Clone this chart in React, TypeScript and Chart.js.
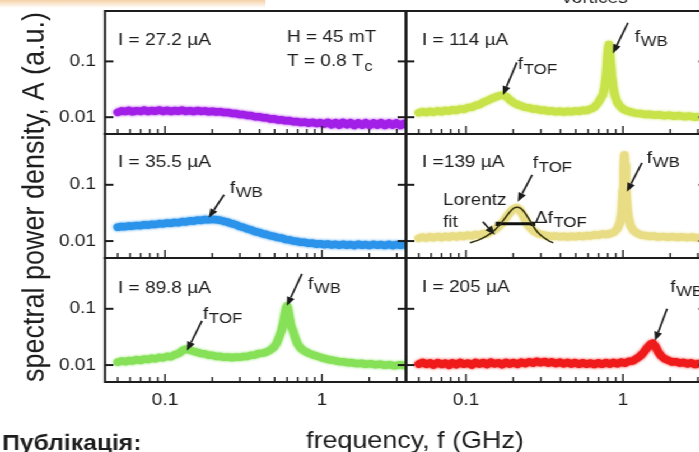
import React, { useEffect, useRef } from 'react';
import { Chart, registerables } from 'chart.js';

Chart.register(...registerables);

// ---------------- data ----------------
const FREQ_BASE = [0.050, 0.053, 0.056, 0.059, 0.062, 0.066, 0.070, 0.074, 0.078, 0.082, 0.087, 0.092, 0.097,
  0.103, 0.109, 0.115, 0.122, 0.129, 0.136, 0.144, 0.152, 0.161, 0.170, 0.180, 0.190,
  0.201, 0.213, 0.225, 0.238, 0.252, 0.267, 0.282, 0.298, 0.316, 0.334, 0.353, 0.374, 0.396, 0.419, 0.443, 0.469,
  0.496, 0.525, 0.555, 0.587, 0.621, 0.657, 0.695, 0.735, 0.778, 0.823, 0.871, 0.921, 0.974,
  1.03, 1.09, 1.15, 1.22, 1.29, 1.36, 1.44, 1.52, 1.61, 1.70, 1.80, 1.90, 2.01, 2.13, 2.25, 2.38, 2.52, 2.67, 2.82,
  2.98, 3.15, 3.34, 3.45];

const AMP_27_2 = [0.0122, 0.0130, 0.0126, 0.0133, 0.0125, 0.0131, 0.0127, 0.0134, 0.0126, 0.0132, 0.0128, 0.0135, 0.0127,
  0.0133, 0.0126, 0.0132, 0.0128, 0.0134, 0.0127, 0.0131, 0.0126, 0.0132, 0.0127, 0.0130, 0.0125,
  0.0128, 0.0124, 0.0126, 0.0121, 0.0122, 0.0117, 0.0117, 0.0112, 0.0112, 0.0107, 0.0107, 0.0102, 0.0102, 0.0098, 0.0098, 0.0093,
  0.0094, 0.0089, 0.0090, 0.0086, 0.0087, 0.0083, 0.0084, 0.0080, 0.0082, 0.0078, 0.0081, 0.0077, 0.0080,
  0.0075, 0.0081, 0.0073, 0.0080, 0.0072, 0.0081, 0.0073, 0.0080, 0.0071, 0.0079, 0.0072, 0.0080, 0.0071, 0.0079, 0.0072, 0.0080, 0.0071, 0.0079, 0.0072,
  0.0079, 0.0071, 0.0078, 0.0073];

const AMP_35_5 = [0.0176, 0.0182, 0.0180, 0.0186, 0.0184, 0.0190, 0.0188, 0.0195, 0.0192, 0.0199, 0.0197, 0.0205, 0.0202,
  0.0210, 0.0207, 0.0215, 0.0212, 0.0222, 0.0219, 0.0229, 0.0226, 0.0236, 0.0233, 0.0242, 0.0240,
  0.0245, 0.0240, 0.0235, 0.0224, 0.0216, 0.0204, 0.0196, 0.0183, 0.0176, 0.0164, 0.0158, 0.0148, 0.0143, 0.0135, 0.0131, 0.0124,
  0.0121, 0.0115, 0.0113, 0.0107, 0.0105, 0.0100, 0.0099, 0.0095, 0.0095, 0.0091, 0.0092, 0.0088, 0.0090,
  0.0086, 0.0089, 0.0085, 0.0088, 0.0084, 0.0088, 0.0084, 0.0087, 0.0083, 0.0088, 0.0084, 0.0087, 0.0083, 0.0088, 0.0084, 0.0087, 0.0083, 0.0088, 0.0083,
  0.0087, 0.0084, 0.0087, 0.0083];

const FREQ_89_8 = [0.050, 0.053, 0.056, 0.059, 0.062, 0.066, 0.070, 0.074, 0.078, 0.082, 0.087, 0.092, 0.097,
  0.103, 0.109, 0.115, 0.122, 0.129, 0.136, 0.144, 0.152, 0.161, 0.170, 0.180, 0.190, 0.201, 0.213, 0.225, 0.238,
  0.252, 0.267, 0.282, 0.298, 0.316, 0.334, 0.353, 0.374, 0.396, 0.419, 0.443, 0.469, 0.496,
  0.515, 0.535, 0.552, 0.567, 0.580, 0.592, 0.600, 0.608, 0.620, 0.635, 0.652, 0.672, 0.695, 0.720, 0.750, 0.790, 0.835, 0.885, 0.935,
  0.99, 1.05, 1.12, 1.19, 1.27, 1.36, 1.45, 1.55, 1.66, 1.78, 1.90, 2.04, 2.19, 2.35, 2.52, 2.70, 2.90, 3.12, 3.45];
const AMP_89_8 = [0.0113, 0.0118, 0.0115, 0.0121, 0.0118, 0.0125, 0.0121, 0.0128, 0.0125, 0.0132, 0.0129, 0.0137, 0.0134,
  0.0143, 0.0140, 0.0152, 0.0160, 0.0180, 0.0192, 0.0185, 0.0175, 0.0168, 0.0160, 0.0158, 0.0150, 0.0149, 0.0142, 0.0143, 0.0137,
  0.0139, 0.0135, 0.0139, 0.0137, 0.0142, 0.0142, 0.0149, 0.0151, 0.0160, 0.0163, 0.0170, 0.0185, 0.0210,
  0.0245, 0.0320, 0.0410, 0.0560, 0.0800, 0.1050, 0.1120, 0.1000, 0.0720, 0.0500, 0.0420, 0.0320, 0.0245, 0.0210, 0.0188, 0.0172, 0.0160, 0.0150, 0.0143,
  0.0136, 0.0130, 0.0124, 0.0121, 0.0116, 0.0115, 0.0110, 0.0111, 0.0106, 0.0108, 0.0103, 0.0106, 0.0101, 0.0104, 0.0099, 0.0102, 0.0097, 0.0101, 0.0097];

const FREQ_114 = [0.050, 0.053, 0.056, 0.059, 0.062, 0.066, 0.070, 0.074, 0.078, 0.082, 0.087, 0.092, 0.097,
  0.103, 0.109, 0.115, 0.122, 0.129, 0.136, 0.144, 0.152, 0.161, 0.170, 0.180, 0.190, 0.201, 0.213, 0.225, 0.238,
  0.252, 0.267, 0.282, 0.298, 0.316, 0.334, 0.353, 0.374, 0.396, 0.419, 0.443, 0.469, 0.496,
  0.525, 0.555, 0.587, 0.621, 0.655, 0.690, 0.720, 0.745, 0.765, 0.782, 0.795, 0.806, 0.815, 0.824, 0.836, 0.850, 0.868, 0.890, 0.92, 0.96,
  1.01, 1.07, 1.13, 1.20, 1.28, 1.37, 1.47, 1.58, 1.70, 1.83, 1.97, 2.12, 2.28, 2.46, 2.65, 2.86, 3.08, 3.45];
const AMP_114 = [0.0120, 0.0126, 0.0121, 0.0128, 0.0123, 0.0130, 0.0125, 0.0133, 0.0128, 0.0136, 0.0132, 0.0141, 0.0138,
  0.0149, 0.0150, 0.0162, 0.0168, 0.0185, 0.0196, 0.0212, 0.0225, 0.0240, 0.0250, 0.0238, 0.0205, 0.0182, 0.0168, 0.0160, 0.0150,
  0.0148, 0.0140, 0.0140, 0.0133, 0.0134, 0.0128, 0.0130, 0.0125, 0.0128, 0.0124, 0.0128, 0.0125, 0.0130,
  0.0127, 0.0133, 0.0132, 0.0140, 0.0150, 0.0175, 0.0215, 0.0250, 0.0360, 0.0600, 0.120, 0.185, 0.200, 0.160, 0.095, 0.055, 0.034, 0.024, 0.0185, 0.0155,
  0.0138, 0.0128, 0.0124, 0.0118, 0.0117, 0.0112, 0.0113, 0.0109, 0.0111, 0.0106, 0.0109, 0.0104, 0.0107, 0.0102, 0.0105, 0.0100, 0.0103, 0.0100];

const FREQ_139 = [0.050, 0.053, 0.056, 0.059, 0.062, 0.066, 0.070, 0.074, 0.078, 0.082, 0.087, 0.092, 0.097,
  0.103, 0.109, 0.115, 0.122, 0.129, 0.136, 0.144, 0.152, 0.161, 0.170, 0.180, 0.190,
  0.200, 0.210, 0.220, 0.232, 0.245, 0.260, 0.275, 0.292, 0.31, 0.33, 0.35, 0.374, 0.396, 0.419, 0.443, 0.469, 0.496,
  0.525, 0.555, 0.587, 0.621, 0.657, 0.695, 0.735, 0.778, 0.823, 0.871, 0.921,
  0.955, 0.980, 0.998, 1.012, 1.022, 1.032, 1.045, 1.062, 1.085, 1.12, 1.17, 1.23, 1.30, 1.38, 1.47, 1.57, 1.68,
  1.80, 1.93, 2.07, 2.22, 2.38, 2.56, 2.75, 2.96, 3.18, 3.45];
const AMP_139 = [0.0112, 0.0118, 0.0113, 0.0120, 0.0114, 0.0121, 0.0115, 0.0122, 0.0117, 0.0124, 0.0118, 0.0126, 0.0120,
  0.0128, 0.0123, 0.0131, 0.0127, 0.0136, 0.0135, 0.0148, 0.0158, 0.0180, 0.0210, 0.0260, 0.0320,
  0.0370, 0.0395, 0.0360, 0.0280, 0.0205, 0.0165, 0.0145, 0.0134, 0.0128, 0.0125, 0.0121, 0.0123, 0.0119, 0.0122, 0.0118, 0.0122, 0.0119,
  0.0124, 0.0120, 0.0126, 0.0123, 0.0129, 0.0127, 0.0133, 0.0131, 0.0135, 0.0142, 0.0165,
  0.0210, 0.0320, 0.080, 0.200, 0.340, 0.220, 0.090, 0.042, 0.026, 0.0185, 0.0152, 0.0138, 0.0128, 0.0126, 0.0121, 0.0123, 0.0118,
  0.0121, 0.0117, 0.0120, 0.0116, 0.0119, 0.0115, 0.0118, 0.0114, 0.0117, 0.0114];

const FREQ_205 = [0.050, 0.053, 0.056, 0.059, 0.062, 0.066, 0.070, 0.074, 0.078, 0.082, 0.087, 0.092, 0.097,
  0.103, 0.109, 0.115, 0.122, 0.129, 0.136, 0.144, 0.152, 0.161, 0.170, 0.180, 0.190,
  0.201, 0.213, 0.225, 0.238, 0.252, 0.267, 0.282, 0.298, 0.316, 0.334, 0.353, 0.374, 0.396, 0.419, 0.443, 0.469,
  0.496, 0.525, 0.555, 0.587, 0.621, 0.657, 0.695, 0.735, 0.778, 0.823, 0.871, 0.921, 0.974,
  1.03, 1.09, 1.15, 1.22, 1.29, 1.36, 1.43, 1.50, 1.55, 1.61, 1.68, 1.76, 1.85, 1.95, 2.06, 2.18, 2.30, 2.43, 2.57,
  2.72, 2.88, 3.05, 3.25, 3.45];
const AMP_205 = [0.0104, 0.0112, 0.0103, 0.0110, 0.0100, 0.0111, 0.0102, 0.0109, 0.0099, 0.0110, 0.0101, 0.0112, 0.0103,
  0.0109, 0.0100, 0.0112, 0.0104, 0.0111, 0.0102, 0.0113, 0.0105, 0.0110, 0.0101, 0.0112, 0.0104,
  0.0111, 0.0103, 0.0113, 0.0106, 0.0115, 0.0108, 0.0117, 0.0110, 0.0116, 0.0108, 0.0114, 0.0106, 0.0113, 0.0105, 0.0112, 0.0104,
  0.0111, 0.0103, 0.0110, 0.0103, 0.0109, 0.0102, 0.0110, 0.0103, 0.0111, 0.0104, 0.0112, 0.0105, 0.0113,
  0.0108, 0.0117, 0.0118, 0.0130, 0.0145, 0.0170, 0.0205, 0.0235, 0.0245, 0.0215, 0.0170, 0.0143, 0.0128, 0.0121, 0.0113, 0.0115, 0.0108, 0.0112, 0.0105,
  0.0110, 0.0102, 0.0107, 0.0101, 0.0105];

const LORENTZ_F = [0.106, 0.120, 0.135, 0.150, 0.165, 0.180, 0.192, 0.203, 0.212, 0.222, 0.234, 0.248, 0.265, 0.285, 0.31, 0.335, 0.36];
const LORENTZ_A = [0.0093, 0.0104, 0.0122, 0.0150, 0.0198, 0.0270, 0.0340, 0.0388, 0.0400, 0.0385, 0.0335, 0.0265, 0.0195, 0.0145, 0.0118, 0.0102, 0.0093];

const DELTA_F = [0.160, 0.267];
const DELTA_A = [0.0203, 0.0203];

const X_TICKS = [0.05, 0.06, 0.07, 0.08, 0.09, 0.1, 0.2, 0.3, 0.4, 0.5, 0.6, 0.7, 0.8, 0.9, 1, 2, 3];
const X_MAJOR = [0.1, 1];
const X_LABELS = ['0.1', '1'];
const Y_TICKS = [0.01, 0.1];
const Y_LABELS = ['0.01', '0.1'];

const X_TITLE = 'frequency, f (GHz)';
const Y_TITLE = 'spectral power density, A (a.u.)';

// ---------------- layout / style ----------------
const K = 1.12; // horizontal stretch of the whole figure
const DW = 640;
const DH = 452;
const COL_LEFT = [93.75, 362.5];
const COL_W = 268.75;
const ROW_TOP = [11, 134, 258];
const ROW_H = [123, 124, 124];
const XMIN = 0.0415, XMAX = 3.43, YMIN = 0.005, YMAX = 0.8;
const FONT = '"Liberation Sans", Arial, Helvetica, sans-serif';
const INK = '#1d1d1d';

type Txt = { t: string; sub?: string; f: number; a: number; size?: number };
type Arr = { from: [number, number]; to: [number, number] };
type Panel = { row: number; col: number; freq: number[]; amp: number[]; color: string; texts: Txt[]; arrows: Arr[]; fit?: boolean };

const PANELS: Panel[] = [
  { row: 0, col: 0, freq: FREQ_BASE, amp: AMP_27_2, color: '#a11fe6',
    texts: [{ t: 'I = 27.2 µA', f: 0.0502, a: 0.2 }, { t: 'H = 45 mT', f: 0.598, a: 0.227 }, { t: 'T = 0.8 T', sub: 'c', f: 0.598, a: 0.0815 }],
    arrows: [] },
  { row: 1, col: 0, freq: FREQ_BASE, amp: AMP_35_5, color: '#2b93ea',
    texts: [{ t: 'I = 35.5 µA', f: 0.0502, a: 0.209 }, { t: 'f', sub: 'WB', f: 0.259, a: 0.072 }],
    arrows: [{ from: [0.238, 0.0665], to: [0.19, 0.026] }] },
  { row: 2, col: 0, freq: FREQ_89_8, amp: AMP_89_8, color: '#86e058',
    texts: [{ t: 'I = 89.8 µA', f: 0.0502, a: 0.192 }, { t: 'f', sub: 'TOF', f: 0.175, a: 0.0665 }, { t: 'f', sub: 'WB', f: 0.815, a: 0.227 }],
    arrows: [{ from: [0.172, 0.0612], to: [0.138, 0.018] }, { from: [0.746, 0.419], to: [0.598, 0.113] }] },
  { row: 0, col: 1, freq: FREQ_114, amp: AMP_114, color: '#c8e24a',
    texts: [{ t: 'I = 114 µA', f: 0.0525, a: 0.193 }, { t: 'f', sub: 'TOF', f: 0.214, a: 0.072 }, { t: 'f', sub: 'WB', f: 1.19, a: 0.227 }],
    arrows: [{ from: [0.211, 0.096], to: [0.172, 0.0249] }, { from: [1.076, 0.493], to: [0.863, 0.139] }] },
  { row: 1, col: 1, freq: FREQ_139, amp: AMP_139, color: '#e8dc84', fit: true,
    texts: [{ t: 'I =139 µA', f: 0.0525, a: 0.209 }, { t: 'f', sub: 'TOF', f: 0.267, a: 0.2 }, { t: 'f', sub: 'WB', f: 1.42, a: 0.246 },
      { t: 'Lorentz', f: 0.0715, a: 0.0441 }, { t: 'fit', f: 0.0715, a: 0.018 }, { t: 'Δf', sub: 'TOF', f: 0.275, a: 0.0211 }],
    arrows: [{ from: [0.264, 0.15], to: [0.214, 0.0499] }, { from: [1.32, 0.246], to: [1.06, 0.075] }, { from: [0.128, 0.022], to: [0.153, 0.0129] }] },
  { row: 2, col: 1, freq: FREQ_205, amp: AMP_205, color: '#ef1b1b',
    texts: [{ t: 'I = 205 µA', f: 0.0525, a: 0.2 }, { t: 'f', sub: 'WB', f: 2.0, a: 0.2 }],
    arrows: [{ from: [1.91, 0.1], to: [1.6, 0.027] }] },
];

function makePanelPlugin(p: Panel) {
  return {
    id: 'panelDeco',
    beforeDatasetDraw(chart: any, args: any) {
      const ds = chart.data.datasets[args.index];
      if (ds && ds.order === 1) {
        chart.ctx.save();
        chart.ctx.shadowColor = p.color;
        chart.ctx.shadowBlur = 3;
      }
    },
    afterDatasetDraw(chart: any, args: any) {
      const ds = chart.data.datasets[args.index];
      if (ds && ds.order === 1) chart.ctx.restore();
    },
    afterDatasetsDraw(chart: any) {
      const { ctx, chartArea: ca } = chart;
      const xs = chart.scales.x, ys = chart.scales.y;
      ctx.save();
      ctx.strokeStyle = INK;
      ctx.lineCap = 'butt';
      // frame
      ctx.lineWidth = 2;
      ctx.strokeRect(ca.left, ca.top, ca.right - ca.left, ca.bottom - ca.top);
      // x tick marks (inward, bottom)
      ctx.lineWidth = 1.4;
      for (const v of X_TICKS) {
        if (v < XMIN || v > XMAX) continue;
        const px = xs.getPixelForValue(v);
        const len = X_MAJOR.includes(v) ? 8 : 5;
        ctx.beginPath(); ctx.moveTo(px, ca.bottom); ctx.lineTo(px, ca.bottom - len); ctx.stroke();
      }
      // y tick marks (inward, both sides)
      ctx.lineWidth = 2;
      for (const v of Y_TICKS) {
        const py = ys.getPixelForValue(v);
        ctx.beginPath(); ctx.moveTo(ca.left, py); ctx.lineTo(ca.left + 7.5, py); ctx.stroke();
        ctx.beginPath(); ctx.moveTo(ca.right - 7.5, py); ctx.lineTo(ca.right, py); ctx.stroke();
      }
      // arrows
      ctx.fillStyle = INK;
      ctx.lineWidth = 1.7;
      for (const a of p.arrows) {
        const x1 = xs.getPixelForValue(a.from[0]), y1 = ys.getPixelForValue(a.from[1]);
        const x2 = xs.getPixelForValue(a.to[0]), y2 = ys.getPixelForValue(a.to[1]);
        const ang = Math.atan2(y2 - y1, x2 - x1);
        const hl = 9, hw = 3.6;
        const bx = x2 - hl * Math.cos(ang), by = y2 - hl * Math.sin(ang);
        ctx.beginPath(); ctx.moveTo(x1, y1); ctx.lineTo(bx, by); ctx.stroke();
        ctx.beginPath();
        ctx.moveTo(x2, y2);
        ctx.lineTo(bx + hw * Math.sin(ang), by - hw * Math.cos(ang));
        ctx.lineTo(bx - hw * Math.sin(ang), by + hw * Math.cos(ang));
        ctx.closePath(); ctx.fill();
      }
      // texts
      ctx.fillStyle = INK;
      ctx.textAlign = 'left';
      ctx.textBaseline = 'alphabetic';
      for (const t of p.texts) {
        const x = xs.getPixelForValue(t.f), y = ys.getPixelForValue(t.a);
        ctx.font = `${t.size || 17}px ${FONT}`;
        ctx.fillText(t.t, x, y);
        if (t.sub) {
          const w = ctx.measureText(t.t).width;
          ctx.font = `15px ${FONT}`;
          ctx.fillText(t.sub, x + w + 0.5, y + 4.5);
        }
      }
      ctx.restore();
    },
  };
}

const globalPlugin = {
  id: 'globalDeco',
  afterDraw(chart: any) {
    const { ctx } = chart;
    ctx.save();
    const g = ctx.createLinearGradient(0, 0, 0, 8);
    g.addColorStop(0, 'rgba(242,198,146,0.8)');
    g.addColorStop(1, 'rgba(242,198,146,0)');
    ctx.fillStyle = g;
    ctx.fillRect(0, 0, 237, 8);
    ctx.fillStyle = INK;
    // y title
    ctx.save();
    ctx.translate(31.5, 197);
    ctx.rotate(-Math.PI / 2);
    ctx.font = `27px ${FONT}`;
    ctx.textAlign = 'center';
    ctx.textBaseline = 'middle';
    ctx.fillText(Y_TITLE, 0, 0);
    ctx.restore();
    // x title
    ctx.font = `24px ${FONT}`;
    ctx.textAlign = 'center';
    ctx.textBaseline = 'alphabetic';
    ctx.fillText(X_TITLE, 370.5, 448);
    // slide remnants
    ctx.textAlign = 'left';
    ctx.font = `bold 22px ${FONT}`;
    ctx.fillText('Публікація:', 2, 450);
    ctx.font = `17px ${FONT}`;
    ctx.fillText('vortices', 502, 3);
    ctx.restore();
  },
};

export default function App() {
  const refs = useRef<(HTMLCanvasElement | null)[]>([]);

  useEffect(() => {
    const charts = PANELS.map((p, i) => {
      const canvas = refs.current[i] as HTMLCanvasElement;
      const left = COL_LEFT[p.col];
      const top = ROW_TOP[p.row];
      const bottomSpace = DH - top - ROW_H[p.row];
      const datasets: any[] = [];
      if (p.fit) {
        datasets.push({
          data: LORENTZ_F.map((f, j) => ({ x: f, y: LORENTZ_A[j] })),
          showLine: true, borderColor: '#33330f', borderWidth: 1.6, pointRadius: 0, tension: 0.3, clip: 0, order: 0,
        });
        datasets.push({
          data: DELTA_F.map((f, j) => ({ x: f, y: DELTA_A[j] })),
          showLine: true, borderColor: '#111', borderWidth: 3, pointRadius: 3, pointStyle: 'rect',
          pointBackgroundColor: '#111', pointBorderWidth: 0, clip: 0, order: 0,
        });
      }
      datasets.push({
        data: p.freq.map((f, j) => ({ x: f, y: p.amp[j] })),
        showLine: true, borderColor: p.color, borderWidth: 7.5, pointRadius: 0,
        borderJoinStyle: 'round', borderCapStyle: 'round', clip: 0, order: 1,
      });
      const plugins: any[] = [makePanelPlugin(p)];
      if (i === 0) plugins.push(globalPlugin);
      return new Chart(canvas, {
        type: 'scatter',
        data: { datasets },
        options: {
          responsive: false,
          animation: false,
          events: [],
          layout: { padding: { left: 0, top, right: DW - left - COL_W, bottom: 0 } },
          plugins: { legend: { display: false }, tooltip: { enabled: false }, title: { display: false } },
          scales: {
            x: {
              type: 'logarithmic', min: XMIN, max: XMAX, bounds: 'data',
              grid: { display: false, drawTicks: false }, border: { display: false },
              ticks: {
                display: p.row === 2, autoSkip: false, maxRotation: 0, minRotation: 0, padding: 8,
                color: INK, font: { family: FONT, size: 17 },
                callback: (v: any) => { const k = X_MAJOR.indexOf(v); return k >= 0 ? X_LABELS[k] : ''; },
              },
              afterBuildTicks: (s: any) => { s.ticks = X_TICKS.map((v) => ({ value: v })); },
              afterFit: (s: any) => { s.height = bottomSpace; s.paddingLeft = 0; s.paddingRight = 0; s.paddingTop = 0; s.paddingBottom = 0; },
            },
            y: {
              type: 'logarithmic', min: YMIN, max: YMAX, bounds: 'data',
              grid: { display: false, drawTicks: false }, border: { display: false },
              ticks: {
                display: p.col === 0, autoSkip: false, padding: 8,
                color: INK, font: { family: FONT, size: 17 },
                callback: (v: any) => { const k = Y_TICKS.indexOf(v); return k >= 0 ? Y_LABELS[k] : ''; },
              },
              afterBuildTicks: (s: any) => { s.ticks = Y_TICKS.map((v) => ({ value: v })); },
              afterFit: (s: any) => { s.width = left; s.paddingLeft = 0; s.paddingRight = 0; s.paddingTop = 0; s.paddingBottom = 0; },
            },
          },
        } as any,
        plugins,
      });
    });
    return () => charts.forEach((c) => c.destroy());
  }, []);

  return (
    <div style={{ position: 'fixed', left: 0, top: 0, width: 699, height: 452, overflow: 'hidden', background: '#fff' }}>
      <div style={{ position: 'absolute', left: 0, top: 0, width: DW, height: DH, transform: `scaleX(${K})`, transformOrigin: '0 0' }}>
        {PANELS.map((_, i) => (
          <canvas
            key={i}
            ref={(el) => { refs.current[i] = el; }}
            width={DW}
            height={DH}
            style={{ position: 'absolute', left: 0, top: 0, width: DW, height: DH }}
          />
        ))}
      </div>
    </div>
  );
}
